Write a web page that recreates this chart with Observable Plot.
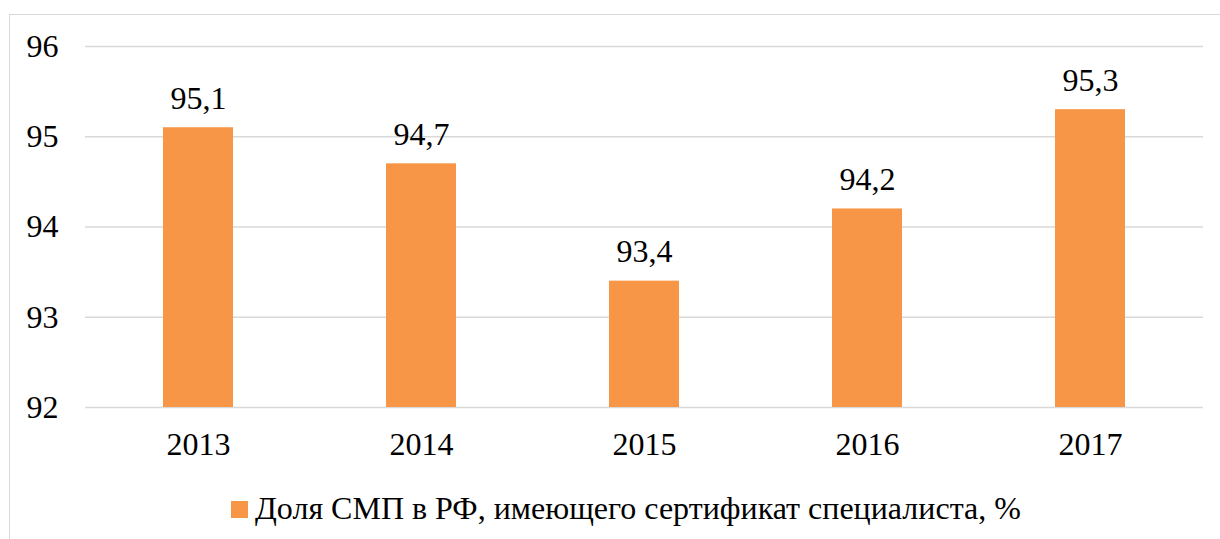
<!DOCTYPE html>
<html>
<head>
<meta charset="utf-8">
<script src="https://cdn.jsdelivr.net/npm/d3@7"></script>
<script src="https://cdn.jsdelivr.net/npm/@observablehq/plot@0.6"></script>
<style>
  html, body { margin: 0; padding: 0; background: #fff; overflow: hidden; }
  body { width: 1220px; height: 539px; position: relative; font-family: "Liberation Serif", serif; }
  #frame { position: absolute; left: 9px; top: 14px; width: 1231px; height: 600px; border: 1px solid #d9d9d9; box-sizing: border-box; }
  #chart { position: absolute; left: 0; top: 0; }
  #chart svg text { font-family: "Liberation Serif", serif; }
  #legend { position: absolute; left: 231px; top: 490px; display: flex; align-items: center; white-space: nowrap; font-size: 32px; color: #000; font-family: "Liberation Serif", serif; }
  #legend .sw { width: 17px; height: 17px; background: #F79646; margin-right: 7px; margin-top: 2px; }
</style>
</head>
<body>
<div id="frame"></div>
<div id="chart"></div>
<div id="legend"><span class="sw"></span><span id="legtext"></span></div>
<script>
const years = ["2013", "2014", "2015", "2016", "2017"];
const values = [95.1, 94.7, 93.4, 94.2, 95.3];
const yTicks = [92, 93, 94, 95, 96];
const seriesName = "Доля СМП в РФ, имеющего сертификат специалиста, %";

const data = years.map((y, i) => ({year: y, value: values[i], base: yTicks[0]}));
const fmt = v => v.toFixed(1).replace(".", ",");
const serif = "Liberation Serif, serif";

const chart = Plot.plot({
  width: 1220,
  height: 480,
  marginLeft: 85,
  marginRight: 17,
  marginTop: 46,
  marginBottom: 73,
  style: { fontFamily: serif, fontSize: "32px", color: "#000", background: "transparent", overflow: "visible" },
  x: { domain: years, paddingInner: 0.687, paddingOuter: 0.3435, label: null },
  y: { domain: [yTicks[0], yTicks[yTicks.length - 1]], label: null },
  marks: [
    Plot.gridY(yTicks, { stroke: "#d9d9d9", strokeOpacity: 1, strokeWidth: 1.5 }),
    Plot.axisY(yTicks, { tickSize: 0, tickPadding: 27, tickFormat: d => String(d), fontSize: 32, fontFamily: serif, label: null }),
    Plot.axisX({ tickSize: 0, tickPadding: 25, fontSize: 32, fontFamily: serif, label: null }),
    Plot.barY(data, { x: "year", y1: "base", y2: "value", fill: "#F79646" }),
    Plot.text(data, { x: "year", y: "value", text: d => fmt(d.value), dy: -29, fontSize: 32, fontFamily: serif, fill: "#000" })
  ]
});
document.getElementById("chart").appendChild(chart);
document.getElementById("legtext").textContent = seriesName;
</script>
</body>
</html>
